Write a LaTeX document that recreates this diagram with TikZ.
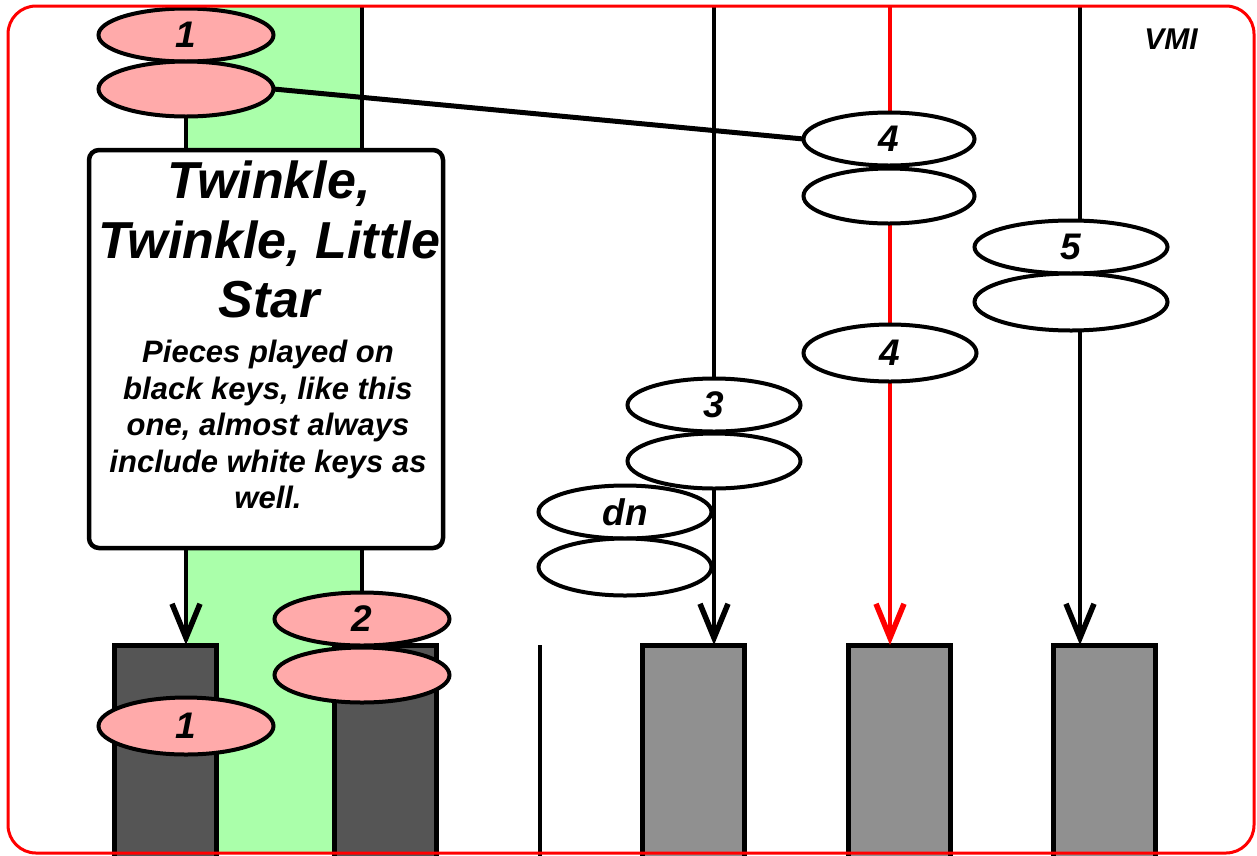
\documentclass[tikz,border=0pt]{standalone}
\usepackage{fontspec}
\setmainfont{Liberation Sans}
\usetikzlibrary{shapes.geometric,arrows.meta}
\definecolor{pinkfill}{RGB}{255,170,170}
\definecolor{greenband}{RGB}{170,255,170}
\definecolor{darkkey}{RGB}{85,85,85}
\definecolor{graykey}{RGB}{144,144,144}
\pgfdeclarelayer{back}
\pgfdeclarelayer{mid}
\pgfdeclarelayer{front}
\pgfsetlayers{back,mid,main,front}
\begin{document}
\begin{tikzpicture}[x=1pt,y=-1pt,
  ell/.style={ellipse, draw=black, line width=4pt, fill=white, inner sep=0pt, outer sep=0pt,
    minimum width=175pt, minimum height=54pt, font=\fontsize{37}{40}\selectfont\bfseries\itshape},
  pinkell/.style={ell, fill=pinkfill},
  bkey/.style={draw=black, line width=5pt, fill=darkkey, anchor=north west, inner sep=0pt,
    outer sep=0pt, minimum width=102pt, minimum height=215pt},
  gkey/.style={bkey, fill=graykey},
  vline/.style={line width=4.5pt},
  downarrow/.style={vline, -{Straight Barb[length=34pt,width=28pt,line width=5.5pt]}},
  textbox/.style={draw=black, line width=4.5pt, fill=white, rounded corners=10pt, inner sep=0pt},
  bi/.style={font=\fontsize{#1}{#1}\selectfont\bfseries\itshape},
]
\useasboundingbox (0,0) rectangle (1257,855);
\begin{pgfonlayer}{back}
  \fill[white] (0,0) rectangle (1257,855);
  \fill[greenband] (188,6) rectangle (362,853);
\end{pgfonlayer}

% keys
\begin{pgfonlayer}{back}
  \node[bkey] (k1) at (114,645) {};
  \node[bkey] (k2) at (334,645) {};
  \node[gkey] (k3) at (642,645) {};
  \node[gkey] (k4) at (848,645) {};
  \node[gkey] (k5) at (1053,645) {};
\end{pgfonlayer}

% text box
\node[textbox, minimum width=354pt, minimum height=398pt] (box) at (266,349) {};
\node[anchor=north, align=center, inner sep=0pt, font=\fontsize{52}{59.5}\selectfont\bfseries\itshape]
  (title) at (269,161) {Twinkle,\\Twinkle, Little\\Star};
\node[anchor=north, align=center, inner sep=0pt, font=\fontsize{31}{36.5}\selectfont\bfseries\itshape]
  (body) at (268,340) {Pieces played on\\black keys, like this\\one, almost always\\include white keys as\\well.};

% ellipses
\node[pinkell, minimum height=53pt] (p1a) at (186,35) {1};
\node[pinkell, minimum height=55pt] (p1b) at (186,89) {};
\node[ell, minimum width=171pt, minimum height=53pt] (p4a) at (889,139) {4};
\node[ell, minimum width=171pt, minimum height=55pt] (p4b) at (889,196) {};
\node[ell, minimum width=193pt, minimum height=53pt] (p5a) at (1071,247) {5};
\node[ell, minimum width=193pt, minimum height=57pt] (p5b) at (1071,302) {};
\node[ell, minimum width=173pt, minimum height=57pt] (s4) at (890,353) {4};
\node[ell, minimum width=173pt, minimum height=53pt] (p3a) at (714,405) {3};
\node[ell, minimum width=173pt, minimum height=55pt] (p3b) at (714,461) {};
\node[ell, minimum width=173pt, minimum height=53pt] (dna) at (625,512) {dn};
\node[ell, minimum width=173pt, minimum height=57pt] (dnb) at (625,567) {};
\node[pinkell, minimum height=53pt] (p2a) at (362,619) {2};
\node[pinkell, minimum height=55pt] (p2b) at (362,675) {};
\node[pinkell, minimum height=57pt] (s1) at (186,726) {1};

\node[bi=30] (vmi) at (1171,39) {VMI};

% lines under ellipses
\begin{pgfonlayer}{mid}
  \coordinate (t2) at (362,6);
  \coordinate (t3) at (714,6);
  \coordinate (t4) at (890,6);
  \coordinate (t5) at (1080,6);
  \coordinate (d0) at (540,645);
  \coordinate (d1) at (540,858);
  \draw[vline] (t2) -- (p2a.north);
  \draw[downarrow] (p1b.south) -- (p1b.south |- k1.north);
  \draw[downarrow] (t3) -- (t3 |- k3.north);
  \draw[downarrow, red] (t4) -- (t4 |- k4.north);
  \draw[downarrow] (t5) -- (t5 |- k5.north);
  \draw[vline] (d0) -- (d1);
\end{pgfonlayer}

\draw[line width=5pt] (p1b.east) -- (p4a.west);

\begin{pgfonlayer}{front}
  \draw[red, line width=3pt, rounded corners=28pt] (8,6) rectangle (1254,853);
\end{pgfonlayer}
\end{tikzpicture}
\end{document}
